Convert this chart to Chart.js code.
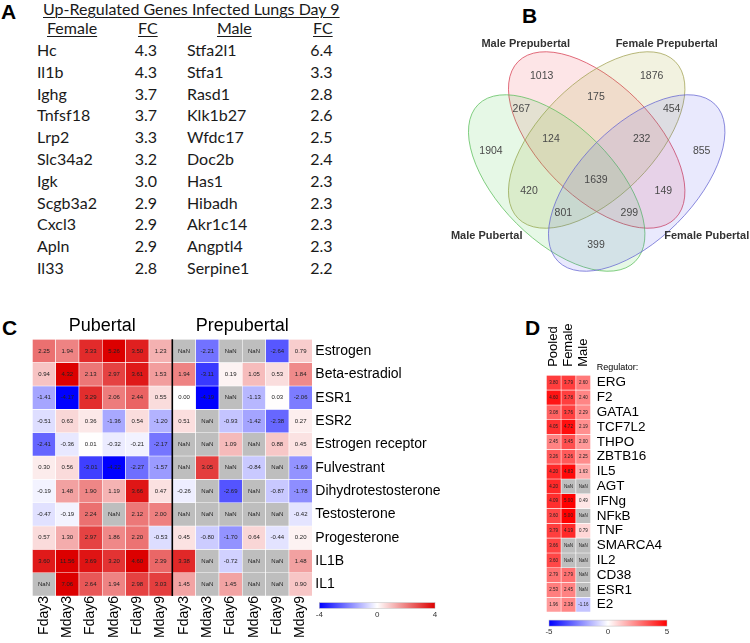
<!DOCTYPE html>
<html><head><meta charset="utf-8">
<script src="https://cdn.jsdelivr.net/npm/chart.js@4.4.0/dist/chart.umd.min.js"></script>
<style>
html,body{margin:0;padding:0;background:#fff;}
body{width:750px;height:643px;position:relative;overflow:hidden;font-family:"Liberation Sans",Arial,sans-serif;}
.abs{position:absolute;white-space:nowrap;}
.plabel{font-weight:bold;font-size:21px;color:#000;line-height:1;}
.ta{font-family:Lato,"Open Sans",sans-serif;color:#1a1a1a;line-height:1;}
canvas{position:absolute;}
</style></head>
<body>
<div class="abs plabel" style="left:1px;top:1px;">A</div>
<div class="abs plabel" style="left:522px;top:5px;">B</div>
<div class="abs plabel" style="left:2px;top:317px;">C</div>
<div class="abs plabel" style="left:525px;top:317px;">D</div>
<div id="tableA"></div>
<canvas id="venn" width="390" height="290" style="left:360px;top:20px;"></canvas>
<canvas id="heatC" width="460" height="333" style="left:0px;top:310px;"></canvas>
<canvas id="heatD" width="230" height="333" style="left:520px;top:310px;"></canvas>
<script>
// ---------------- Panel A data ----------------
const tableTitle = 'Up-Regulated Genes Infected Lungs Day 9';
const femaleGenes = ['Hc','Il1b','Ighg','Tnfsf18','Lrp2','Slc34a2','Igk','Scgb3a2','Cxcl3','Apln','Il33'];
const femaleFC = [4.3,4.3,3.7,3.7,3.3,3.2,3.0,2.9,2.9,2.9,2.8];
const maleGenes = ['Stfa2l1','Stfa1','Rasd1','Klk1b27','Wfdc17','Doc2b','Has1','Hibadh','Akr1c14','Angptl4','Serpine1'];
const maleFC = [6.4,3.3,2.8,2.6,2.5,2.4,2.3,2.3,2.3,2.3,2.2];

// ---------------- Panel B data ----------------
const vennSetNames = ['Male Prepubertal','Female Prepubertal','Male Pubertal','Female Pubertal'];
const vennCounts = [1013,1876,175,267,454,124,232,1904,855,1639,420,149,801,299,399];

// ---------------- Panel C data ----------------
const cGroups = ['Pubertal','Prepubertal'];
const cCols = ['Fday3','Mday3','Fday6','Mday6','Fday9','Mday9','Fday3','Mday3','Fday6','Mday6','Fday9','Mday9'];
const cRows = ['Estrogen','Beta-estradiol','ESR1','ESR2','Estrogen receptor','Fulvestrant','Dihydrotestosterone','Testosterone','Progesterone','IL1B','IL1'];
const cEstrogen      = [2.25,1.94,3.33,5.26,3.50,1.23, null,-2.21,null,null,-2.64,0.79];
const cBetaEstradiol = [0.94,4.32,2.13,2.97,3.61,1.53, 1.94,-3.11,0.19,1.05,0.53,1.84];
const cESR1          = [-1.41,-4.17,3.29,2.06,2.44,0.55, 0.00,-4.19,null,-1.13,0.03,-2.06];
const cESR2          = [-0.51,0.63,0.36,-1.36,0.54,-1.20, 0.51,null,-0.93,-1.42,-2.38,0.27];
const cEstrogenRec   = [-2.41,-0.36,0.01,-0.32,-0.21,-2.17, null,null,1.09,null,0.88,0.45];
const cFulvestrant   = [0.30,0.56,-3.01,-4.22,-2.27,-1.57, null,3.05,null,-0.84,null,-1.69];
const cDHT           = [-0.19,1.48,1.90,1.19,3.66,0.47, -0.26,null,-2.69,null,-0.87,-1.78];
const cTestosterone  = [-0.47,-0.19,2.24,null,2.12,2.00, null,null,null,null,null,-0.42];
const cProgesterone  = [0.57,1.30,2.97,1.86,2.20,-0.53, 0.45,-0.80,-1.70,0.64,-0.44,0.20];
const cIL1B          = [3.60,11.56,3.69,3.20,4.60,2.39, 3.38,null,-0.72,null,null,1.48];
const cIL1           = [null,7.06,2.64,1.94,2.98,3.03, 1.45,null,1.45,null,null,0.90];
const cValues = [cEstrogen,cBetaEstradiol,cESR1,cESR2,cEstrogenRec,cFulvestrant,cDHT,cTestosterone,cProgesterone,cIL1B,cIL1];
const cScaleTicks = [-4,0,4];

// ---------------- Panel D data ----------------
const dCols = ['Pooled','Female','Male'];
const dRows = ['ERG','F2','GATA1','TCF7L2','THPO','ZBTB16','IL5','AGT','IFNg','NFkB','TNF','SMARCA4','IL2','CD38','ESR1','E2'];
const dPooled = [3.80,4.60,3.08,4.05,2.45,3.26,4.20,4.20,4.09,3.60,3.79,3.66,3.60,2.79,2.53,1.96];
const dFemale = [3.79,3.78,3.76,4.72,3.45,3.26,4.83,null,5.00,5.00,4.19,null,null,2.79,2.45,2.38];
const dMale   = [2.60,2.40,2.29,2.19,2.00,2.25,1.63,null,0.49,null,0.79,null,null,null,null,-1.16];
const dValues = [dPooled,dFemale,dMale];
const dScaleTicks = [-5,0,5];

// ---------------- helpers ----------------
const FONT = '"Liberation Sans", Arial, sans-serif';
function divColor(v, lim, redEnd){
  if (v === null || v === undefined || isNaN(v)) return 'rgb(190,190,190)';
  let t = Math.max(-1, Math.min(1, v/lim));
  let r,g,b;
  if (t >= 0){ r = 255+(redEnd[0]-255)*t; g = 255+(redEnd[1]-255)*t; b = 255+(redEnd[2]-255)*t; }
  else { const s=-t; r = 255*(1-s); g = 255*(1-s); b = 255; }
  return `rgb(${Math.round(r)},${Math.round(g)},${Math.round(b)})`;
}
const C_RED=[220,0,0], D_RED=[255,0,0];

// ---------------- Panel A (table text) ----------------
(function(){
  const host = document.getElementById('tableA');
  function add(txt, css){ const d=document.createElement('div'); d.className='abs ta'; d.textContent=txt; Object.assign(d.style, css); host.appendChild(d); return d; }
  add(tableTitle, {left:'43px', top:'1px', fontSize:'16px', textDecoration:'underline', textDecorationThickness:'1px', textUnderlineOffset:'2px'});
  const hdr = {top:'20px', fontSize:'16px', textDecoration:'underline', textDecorationThickness:'1px', textUnderlineOffset:'2px'};
  add('Female', Object.assign({left:'47px'}, hdr));
  add('FC', Object.assign({left:'138px'}, hdr));
  add('Male', Object.assign({left:'217px'}, hdr));
  add('FC', Object.assign({left:'313px'}, hdr));
  femaleGenes.forEach((g,i)=>{
    const top = (42 + i*21.8)+'px';
    add(g, {left:'37px', top, fontSize:'16px'});
    add(femaleFC[i].toFixed(1), {left:'110px', width:'47px', textAlign:'right', top, fontSize:'16px'});
    add(maleGenes[i], {left:'187px', top, fontSize:'16px'});
    add(maleFC[i].toFixed(1), {left:'285px', width:'47.5px', textAlign:'right', top, fontSize:'16px'});
  });
})();

// ---------------- Panel B (Venn) ----------------
const vennEllipses = [
  {cx:236.7, cy:120, a:111, b:57, rot: Math.PI/4,  fill:'rgba(240,40,60,0.12)',  stroke:'rgba(215,60,80,0.75)'},
  {cx:236.7, cy:120, a:111, b:57, rot:-Math.PI/4,  fill:'rgba(165,165,45,0.15)', stroke:'rgba(160,160,80,0.75)'},
  {cx:196.7, cy:163, a:111, b:57, rot: Math.PI/4,  fill:'rgba(60,200,60,0.13)',  stroke:'rgba(90,190,90,0.75)'},
  {cx:276.7, cy:163, a:111, b:57, rot:-Math.PI/4,  fill:'rgba(70,70,235,0.12)',  stroke:'rgba(100,100,210,0.75)'}
];
const vennCountPos = [[181.7,56],[291.7,56],[236,77.3],[161.3,89.3],[311.7,89.3],[191,119.3],[281.7,119.3],[131,131],[341.7,131],[236,160.3],[169,171.3],[303.3,171.3],[203.3,192.7],[269.3,192.7],[236,225]];
const vennSetPos = [[165.7,24.3],[306.7,24.3],[126.7,216],[346.7,216]];

new Chart(document.getElementById('venn'), {
  type:'scatter',
  data:{datasets:[{data: vennCounts.map((c,i)=>({x:vennCountPos[i][0], y:vennCountPos[i][1], c})), pointRadius:0, showLine:false}]},
  options:{
    animation:false, responsive:false, events:[],
    layout:{padding:0},
    plugins:{legend:{display:false}, tooltip:{enabled:false}},
    scales:{ x:{type:'linear', min:0, max:390, display:false}, y:{type:'linear', min:0, max:290, reverse:true, display:false} }
  },
  plugins:[{
    id:'venn',
    beforeDatasetsDraw(chart){
      const ctx=chart.ctx, xs=chart.scales.x, ys=chart.scales.y;
      const kx = xs.getPixelForValue(1)-xs.getPixelForValue(0);
      vennEllipses.forEach(e=>{
        ctx.save();
        ctx.beginPath();
        ctx.ellipse(xs.getPixelForValue(e.cx), ys.getPixelForValue(e.cy), e.a*kx, e.b*kx, e.rot, 0, Math.PI*2);
        ctx.fillStyle=e.fill; ctx.fill();
        ctx.lineWidth=1; ctx.strokeStyle=e.stroke; ctx.stroke();
        ctx.restore();
      });
    },
    afterDatasetsDraw(chart){
      const ctx=chart.ctx, xs=chart.scales.x, ys=chart.scales.y;
      ctx.save();
      ctx.textAlign='center'; ctx.textBaseline='middle';
      ctx.font='10.5px '+FONT; ctx.fillStyle='#4a4a4a';
      chart.getDatasetMeta(0).data.forEach((pt,i)=>{ ctx.fillText(String(vennCounts[i]), pt.x, pt.y); });
      ctx.font='bold 11px '+FONT; ctx.fillStyle='#333';
      vennSetNames.forEach((n,i)=>{ ctx.fillText(n, xs.getPixelForValue(vennSetPos[i][0]), ys.getPixelForValue(vennSetPos[i][1])); });
      ctx.restore();
    }
  }]
});

// ---------------- colour bar helper ----------------
function colorBar(ctx, x, y, w, h, lim, redEnd, ticks, fontSize){
  const grad = ctx.createLinearGradient(x,0,x+w,0);
  for (let k=0;k<=20;k++){ const v=-lim+2*lim*k/20; grad.addColorStop(k/20, divColor(v, lim, redEnd)); }
  ctx.fillStyle=grad; ctx.fillRect(x,y,w,h);
  ctx.strokeStyle='#bbb'; ctx.lineWidth=0.5; ctx.strokeRect(x,y,w,h);
  ctx.fillStyle='#333'; ctx.font=fontSize+'px '+FONT; ctx.textAlign='center'; ctx.textBaseline='top';
  ticks.forEach(t=>{ ctx.fillText(String(t), x + (t+lim)/(2*lim)*w, y+h+2); });
}

// ---------------- Panel C (heatmap) ----------------
new Chart(document.getElementById('heatC'), {
  type:'bar',
  data:{ labels:cCols,
    datasets: cRows.map((r,ri)=>({ label:r, data: cCols.map(()=>[ri, ri+1]),
      backgroundColor: cValues[ri].map(v=>divColor(v,4,C_RED)) })) },
  options:{
    animation:false, responsive:false, events:[],
    layout:{padding:{left:32.3, top:29.3, right:0, bottom:0}},
    plugins:{legend:{display:false}, tooltip:{enabled:false}},
    datasets:{bar:{grouped:false, barPercentage:1, categoryPercentage:1, borderWidth:0.6, borderColor:'#fff', borderSkipped:false}},
    scales:{
      x:{type:'category', position:'bottom', grid:{display:false, drawTicks:false}, border:{display:false},
         ticks:{autoSkip:false, minRotation:90, maxRotation:90, padding:0, color:'#000', font:{family:FONT, size:14}},
         afterFit(s){ s.height=47; }},
      y:{type:'linear', min:0, max:11, reverse:true, position:'right', grid:{display:false, drawTicks:false}, border:{display:false},
         afterBuildTicks(s){ s.ticks = cRows.map((_,i)=>({value:i+0.5})); },
         ticks:{ autoSkip:false, callback:(v)=>cRows[Math.floor(v)], padding:3, color:'#000', font:{family:FONT, size:14}},
         afterFit(s){ s.width=147.7; }}
    }
  },
  plugins:[{
    id:'cDecor',
    afterDatasetsDraw(chart){
      const ctx=chart.ctx, xs=chart.scales.x, ca=chart.chartArea;
      ctx.save();
      ctx.font='6px '+FONT; ctx.fillStyle='#222'; ctx.textAlign='center'; ctx.textBaseline='middle';
      chart.data.datasets.forEach((ds,ri)=>{
        chart.getDatasetMeta(ri).data.forEach((el,ci)=>{
          const v=cValues[ri][ci];
          ctx.fillText(v===null?'NaN':v.toFixed(2), el.x, (el.y+el.base)/2);
        });
      });
      const xm=(xs.getPixelForValue(5)+xs.getPixelForValue(6))/2;
      ctx.strokeStyle='#000'; ctx.lineWidth=1.6;
      ctx.beginPath(); ctx.moveTo(xm, ca.top); ctx.lineTo(xm, ca.bottom); ctx.stroke();
      ctx.font='18px '+FONT; ctx.fillStyle='#000'; ctx.textBaseline='alphabetic';
      ctx.fillText(cGroups[0], (xs.getPixelForValue(0)+xs.getPixelForValue(5))/2, ca.top-8);
      ctx.fillText(cGroups[1], (xs.getPixelForValue(6)+xs.getPixelForValue(11))/2, ca.top-8);
      colorBar(ctx, ca.right+7, ca.bottom+6.7, 115.7, 5.6, 4, C_RED, cScaleTicks, 8);
      ctx.restore();
    }
  }]
});

// ---------------- Panel D (heatmap) ----------------
new Chart(document.getElementById('heatD'), {
  type:'bar',
  data:{ labels:dCols,
    datasets: dRows.map((r,ri)=>({ label:r, data: dCols.map(()=>[ri, ri+1]),
      backgroundColor: dValues.map(col=>divColor(col[ri],5,D_RED)) })) },
  options:{
    animation:false, responsive:false, events:[],
    layout:{padding:{left:26.3, top:65.3, right:0, bottom:30.9}},
    plugins:{legend:{display:false}, tooltip:{enabled:false}},
    datasets:{bar:{grouped:false, barPercentage:1, categoryPercentage:1, borderWidth:0.6, borderColor:'#fff', borderSkipped:false}},
    scales:{
      x:{type:'category', display:false},
      y:{type:'linear', min:0, max:16, reverse:true, position:'right', grid:{display:false, drawTicks:false}, border:{display:false},
         afterBuildTicks(s){ s.ticks = dRows.map((_,i)=>({value:i+0.5})); },
         ticks:{ autoSkip:false, callback:(v)=>dRows[Math.floor(v)], padding:6, color:'#000', font:{family:FONT, size:13.5}},
         afterFit(s){ s.width=159.3; }}
    }
  },
  plugins:[{
    id:'dDecor',
    afterDatasetsDraw(chart){
      const ctx=chart.ctx, ca=chart.chartArea, xs=chart.scales.x;
      ctx.save();
      ctx.font='4.5px '+FONT; ctx.fillStyle='#222'; ctx.textAlign='center'; ctx.textBaseline='middle';
      chart.data.datasets.forEach((ds,ri)=>{
        chart.getDatasetMeta(ri).data.forEach((el,ci)=>{
          const v=dValues[ci][ri];
          ctx.fillText(v===null?'NaN':v.toFixed(2), el.x, (el.y+el.base)/2);
        });
      });
      ctx.font='13px '+FONT; ctx.fillStyle='#000'; ctx.textAlign='left'; ctx.textBaseline='middle';
      dCols.forEach((c,i)=>{
        ctx.save();
        ctx.translate(xs.getPixelForValue(i), ca.top-8.5);
        ctx.rotate(-Math.PI/2);
        ctx.fillText(c, 0, 0);
        ctx.restore();
      });
      ctx.font='9px '+FONT; ctx.fillStyle='#000'; ctx.textAlign='left'; ctx.textBaseline='middle';
      ctx.fillText('Regulator:', ca.right+6, ca.top-7.6);
      colorBar(ctx, ca.left+2.7, ca.bottom+8, 118, 6, 5, D_RED, dScaleTicks, 8);
      ctx.restore();
    }
  }]
});
</script>
</body></html>
